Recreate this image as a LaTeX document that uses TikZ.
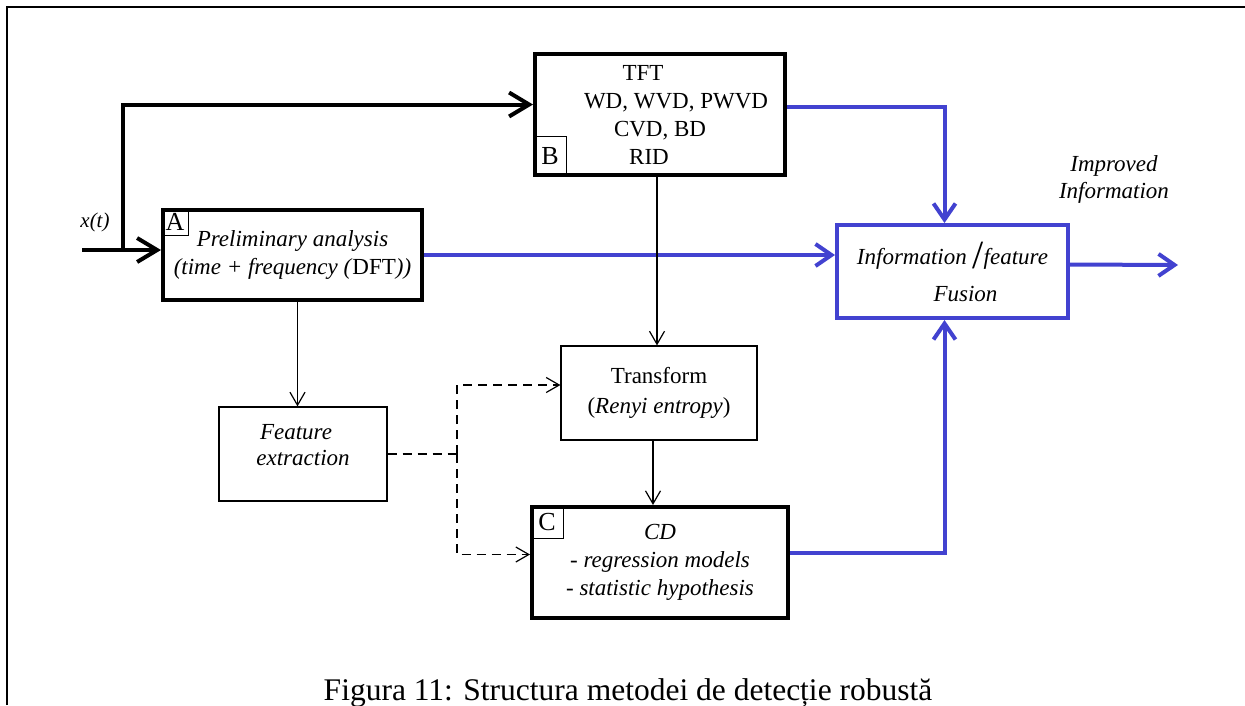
\documentclass[tikz,border=0pt]{standalone}
\usepackage{fontspec}
\setmainfont{Liberation Serif}
\usepackage{tikz}
\usetikzlibrary{arrows.meta,positioning,calc}
\definecolor{fusionBlue}{RGB}{66,66,208}

\begin{document}
\begin{tikzpicture}[x=1pt,y=-1pt,
    bigbox/.style={draw,line width=4pt,inner sep=0pt},
    smallbox/.style={draw,line width=1.2pt,inner sep=0pt},
    tagbox/.style={draw,line width=1pt,inner sep=0pt,font=\fontsize{26}{26}\selectfont},
    boxtext/.style={align=center,font=\fontsize{23}{28}\selectfont\itshape},
    thickarrow/.style={line width=4pt,-{Straight Barb[length=20pt,width=24pt]}},
    bluearrow/.style={fusionBlue,line width=4pt,-{Straight Barb[length=16pt,width=22pt]}},
    thinarrow/.style={line width=1.2pt,-{Straight Barb[length=13pt,width=15pt]}},
    dashline/.style={line width=1.3pt,dash pattern=on 9pt off 6pt}]
  \useasboundingbox (0,0) rectangle (1245,705);
  % Frame
  \draw[line width=2pt] (7,705) -- (7,7) -- (1245,7);

  % Boxes
  \node[bigbox,boxtext,minimum width=259pt,minimum height=90pt] (prelim) at (292.5,255)
    {Preliminary analysis\\(time + frequency (\textup{DFT}))};
  \node[bigbox,align=center,font=\fontsize{23}{28}\selectfont,minimum width=250pt,minimum height=121pt] (tfd) at (660,114.5)
    {TFT\hspace*{34pt}\\\hspace*{32pt}WD, WVD, PWVD\\CVD, BD\hspace*{18pt}\\RID\hspace*{22pt}};
  \node[bigbox,draw=fusionBlue,boxtext,minimum width=231pt,minimum height=93pt,font=\fontsize{23}{37}\selectfont\itshape] (fusion) at (952.5,271.5)
    {Information \raisebox{-4pt}{\fontsize{40}{40}\selectfont\textup{/}}feature\\\hspace*{26pt}Fusion};
  \node[smallbox,align=center,minimum width=196pt,minimum height=94pt,font=\fontsize{23}{30}\selectfont] (trans) at (659,393)
    {Transform\\(\textit{Renyi entropy})};
  \node[smallbox,boxtext,minimum width=168pt,minimum height=94pt,font=\fontsize{23}{26}\selectfont\itshape] (feat) at (303,454)
    {Feature\hspace*{14pt}\\extraction\hspace*{14pt}\\[-8pt]};
  \node[bigbox,boxtext,minimum width=256pt,minimum height=111pt] (cd) at (660,562.5)
    {CD\\- regression models\\- statistic hypothesis};

  % Corner tags
  \node[tagbox,anchor=north west,minimum width=27pt,minimum height=27pt] (tagA) at (prelim.north west) {A};
  \node[tagbox,anchor=south west,minimum width=33pt,minimum height=40pt] (tagB) at (tfd.south west) {B};
  \node[tagbox,anchor=north west,minimum width=33pt,minimum height=33pt] (tagC) at (cd.north west) {C};

  % Labels
  \node[font=\fontsize{21}{21}\selectfont\itshape] (xin) at (95,222) {x(t)};
  \node[align=center,font=\fontsize{23}{27}\selectfont\itshape] (improved) at (1114,179)
    {Improved\\Information};
  \node[anchor=base,font=\fontsize{31.5}{31.5}\selectfont] (caption) at (628,700)
    {Figura 11: Structura metodei de detecție robustă};

  % Input and branch
  \coordinate (start) at (82,250);
  \coordinate (branch) at (123,250);
  \coordinate (out) at (1178,265);
  \draw[thickarrow] (start) -- ([yshift=5pt]prelim.west);
  \draw[thickarrow] (branch) |- ([yshift=10pt]tfd.west);

  % Blue paths into the fusion box
  \draw[bluearrow] (prelim.east) -- (prelim.east -| fusion.west);
  \draw[bluearrow] ([yshift=8pt]tfd.east) -| ([xshift=-8pt]fusion.north);
  \draw[bluearrow] ([yshift=10pt]cd.east) -| ([xshift=-8pt]fusion.south);
  \draw[bluearrow] ([yshift=7pt]fusion.east) -- (out);

  % Thin connectors
  \draw[thinarrow] ([xshift=-3pt]tfd.south) -- ([xshift=-3pt]tfd.south |- trans.north);
  \draw[thinarrow] ([xshift=-6pt]trans.south) -- ([xshift=-6pt]trans.south |- cd.north);
  \draw[thinarrow] ([xshift=5pt]prelim.south) -- ([xshift=5pt]prelim.south |- feat.north);

  % Dashed feature routes
  \coordinate (split) at (457,454);
  \draw[dashline] (feat.east) -- (split);
  \draw[dashline,thinarrow] (split) |- ([yshift=8pt]trans.west);
  \draw[dashline,thinarrow] (split) |- ([yshift=8pt]cd.west);
\end{tikzpicture}
\end{document}
